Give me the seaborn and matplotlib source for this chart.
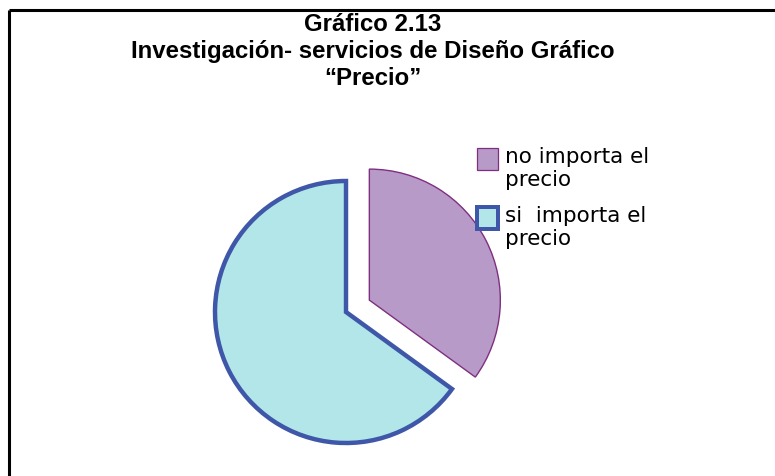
import matplotlib
matplotlib.use("Agg")
import matplotlib.pyplot as plt
from matplotlib.lines import Line2D
from matplotlib.patches import Rectangle
import seaborn as sns

# datos del grafico
etiquetas = ["no importa el\nprecio", "si  importa el\nprecio"]
porcentajes = [35, 65]
colores = ["#B89AC8", "#B3E6E8"]
bordes = ["#7E2F80", "#3F57A8"]
grosores = [1.0, 3.2]

sns.set_style("white")
plt.rcParams["font.family"] = ["Liberation Sans", "DejaVu Sans"]

fig = plt.figure(figsize=(7.75, 4.76), dpi=100)
W, H = 775, 476

# ejes del pastel: centro (346, 312) px, radio 131 px
cx, cy, r = 346, 312, 131
ax = fig.add_axes([(cx - r) / W, (H - cy - r) / H, 2 * r / W, 2 * r / H])

wedges, _ = ax.pie(porcentajes, colors=colores, startangle=90, counterclock=False,
                   explode=[0.2, 0], radius=1)
for w, ec, lw in zip(wedges, bordes, grosores):
    w.set_edgecolor(ec)
    w.set_linewidth(lw)
    w.set_joinstyle("miter")
    w.set_clip_on(False)
ax.set_xlim(-1, 1)
ax.set_ylim(-1, 1)
ax.set_aspect("equal")
ax.axis("off")

# leyenda (cuadro alineado con la primera linea del texto)
for i, (lab, c, ec, lw) in enumerate(zip(etiquetas, colores, bordes, grosores)):
    top = 148 + i * 59
    fig.add_artist(Rectangle((477 / W, 1 - (top + 22) / H), 21 / W, 22 / H,
                             facecolor=c, edgecolor=ec, linewidth=lw * 0.9,
                             transform=fig.transFigure, joinstyle="miter"))
    fig.text(505 / W, 1 - (top - 1) / H, lab, ha="left", va="top",
             family=["DejaVu Sans"], fontsize=15.5, linespacing=1.2,
             color="black")

# titulo
fig.text(373 / W, 1 - 13 / H,
         "Gráfico 2.13\nInvestigación- servicios de Diseño Gráfico\n\u201cPrecio\u201d",
         ha="center", va="top", fontsize=17.3, fontweight="bold",
         linespacing=1.22, color="black")

# marco (solo arriba e izquierda)
fig.add_artist(Line2D([9 / W, 1], [1 - 10 / H, 1 - 10 / H], color="black", lw=2.2,
                      transform=fig.transFigure, solid_capstyle="butt"))
fig.add_artist(Line2D([9 / W, 9 / W], [1 - 10 / H, 0], color="black", lw=2.2,
                      transform=fig.transFigure, solid_capstyle="butt"))

fig.savefig("out.png", dpi=100)
